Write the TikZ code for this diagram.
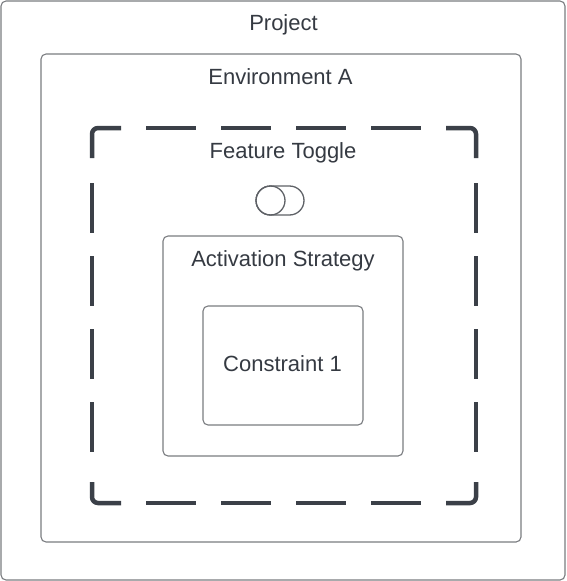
\documentclass[tikz,border=0pt]{standalone}
\usepackage{fontspec}
\setmainfont{Liberation Sans}
\usetikzlibrary{positioning}

\definecolor{framegray}{HTML}{7A7C80}
\definecolor{dashdark}{HTML}{3B4048}
\definecolor{textdark}{HTML}{353A42}
\definecolor{togglegray}{HTML}{5E6166}

\begin{document}
\begin{tikzpicture}[x=1pt, y=-1pt,
    frame_style/.style={draw=framegray, line width=1.1pt, rounded corners=5pt},
    dash_style/.style={draw=dashdark, line width=4.5pt, rounded corners=6pt},
    title_style/.style={font=\fontsize{22}{26}\selectfont, text=textdark, inner sep=0pt, anchor=base},
    toggle_style/.style={draw=togglegray, line width=1.3pt}
]

% page size
\useasboundingbox (0,0) rectangle (566,581);

% Nested frames
\draw[frame_style] (1,1) rectangle (565,580);
\node[title_style] (project_title) at (283.5,30) {Project};

\draw[frame_style] (41,54) rectangle (521,542);
\node[title_style] (env_title) at (280.5,84) {Environment A};

% Feature toggle frame (dashed, drawn piece by piece)
\draw[dash_style] (92,158) |- (121,128);
\draw[dash_style] (446,128) -| (476,158);
\draw[dash_style] (476,482) |- (446,503);
\draw[dash_style] (121,503) -| (92,482);
\foreach \x in {146,221,296,371} {
    \draw[dash_style] (\x,128) -- ++(50,0);
    \draw[dash_style] (\x,503) -- ++(50,0);
}
\foreach \y in {183,256,329,402} {
    \draw[dash_style] (92,\y) -- ++(0,50);
    \draw[dash_style] (476,\y) -- ++(0,50);
}
\node[title_style] (toggle_title) at (283,158) {Feature Toggle};

% Toggle icon
\draw[toggle_style, rounded corners=14.5pt] (256,186) rectangle (304,215);
\draw[toggle_style] (270.5,200.5) circle (14.5);

\draw[frame_style] (163,236) rectangle (403,456);
\node[title_style] (strategy_title) at (283,266) {Activation Strategy};

\draw[frame_style] (203,306) rectangle (363,425);
\node[title_style] (constraint_title) at (282.5,371) {Constraint 1};

\end{tikzpicture}
\end{document}
